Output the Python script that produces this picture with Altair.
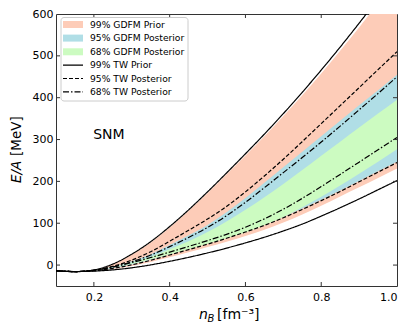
import altair as alt
import pandas as pd

# ---- data ----
n = [0.10, 0.15, 0.20, 0.25, 0.30, 0.35, 0.40, 0.45, 0.50, 0.55,
     0.60, 0.65, 0.70, 0.75, 0.80, 0.85, 0.90, 0.95, 1.00]

gdfm_prior_lo = [-13.5, -15.5, -14, -9.5, -2, 7.5, 18.5, 30.5, 43, 56, 69.5, 84.5, 101.5, 121, 142, 164, 186, 208, 231]
gdfm_prior_hi = [-13.5, -15.5, -12, 2, 25, 54, 90, 130, 172, 217, 262, 308, 356, 406, 458, 512, 568, 626, 686]
gdfm_post95_lo = [-13.5, -15.5, -13.5, -7.5, 1.5, 13, 26, 39, 52, 66, 81, 97, 115, 135, 156, 178, 201, 224, 247]
gdfm_post95_hi = [-13.5, -15.5, -12.5, -4, 9, 26, 48, 71, 96, 126, 160, 197, 234, 271, 308, 345, 382, 418, 455]
gdfm_post68_lo = [-13.5, -15.5, -13, -6, 3, 14, 26, 38.5, 51, 64, 78, 95, 115, 138, 163, 190, 218, 247, 277]
gdfm_post68_hi = [-13.5, -15.5, -12.5, -5, 6, 20, 38, 57, 79, 104, 132, 162, 194, 227, 261, 295, 329, 362, 395]

tw_prior_lo = [-13.5, -15.5, -14.5, -11.5, -6.5, 0.5, 9, 18.5, 29, 40.5, 53, 66.5, 81.5, 98, 117, 137, 158, 180, 202]
tw_prior_hi = [-13.5, -15.5, -11.5, 2.5, 26, 56, 92, 132, 175, 220, 266, 313, 362, 413, 466, 521, 578, 637, 698]
tw_post95_lo = [-13.5, -15.5, -13.5, -8, 0.5, 11.5, 24, 37, 50, 64, 79, 95, 113, 133, 154, 176, 199, 222, 245]
tw_post95_hi = [-13.5, -15.5, -12.5, -3, 12, 32, 57, 83, 110, 140, 175, 213, 253, 295, 338, 381, 424, 467, 510]
tw_post68_lo = [-13.5, -15.5, -12.5, -4.5, 6, 18, 31, 44.5, 58.5, 73.5, 90.5, 110.5, 133.5, 159.5, 187.5, 216.5, 246, 275.5, 305]
tw_post68_hi = [-13.5, -15.5, -12.5, -4.5, 8, 24, 44, 66, 90, 118, 150, 185, 221, 257, 294, 332, 371, 410, 450]

band_names = ["99% GDFM Prior", "95% GDFM Posterior", "68% GDFM Posterior"]
band_colors = ["#fdccb8", "#b0dee6", "#ccfbc1"]
line_names = ["99% TW Prior", "95% TW Posterior", "68% TW Posterior"]
line_dashes = [[1, 0], [4, 2], [6, 2, 1.5, 2]]

x_ticks = [0.2, 0.4, 0.6, 0.8, 1.0]
y_ticks = [0, 100, 200, 300, 400, 500, 600]

# ---- layout ----
W, H = 341, 272
FONT = "DejaVu Sans"
xs = alt.Scale(domain=[0.1, 1.0], nice=False, zero=False)
ys = alt.Scale(domain=[-50, 600], nice=False, zero=False)

bands = [(band_names[0], gdfm_prior_lo, gdfm_prior_hi, band_colors[0]),
         (band_names[1], gdfm_post95_lo, gdfm_post95_hi, band_colors[1]),
         (band_names[2], gdfm_post68_lo, gdfm_post68_hi, band_colors[2])]

layers = []
first = True
for name, lo, hi, col in bands:
    df = pd.DataFrame({"n": n, "lo": lo, "hi": hi})
    if first:
        xenc = alt.X("n:Q", scale=xs, axis=alt.Axis(values=x_ticks, format=".1f", ticks=False, domain=False,
                                                   grid=False, labelFontSize=11, labelFont=FONT,
                                                   labelColor="black", labelPadding=5, title=None))
        yenc = alt.Y("lo:Q", scale=ys, axis=alt.Axis(values=y_ticks, format="d", ticks=False, domain=False,
                                                    grid=False, labelFontSize=11, labelFont=FONT,
                                                    labelColor="black", labelPadding=3, title=None))
        first = False
    else:
        xenc = alt.X("n:Q", scale=xs)
        yenc = alt.Y("lo:Q", scale=ys)
    layers.append(alt.Chart(df).mark_area(interpolate="monotone", clip=True, color=col).encode(
        x=xenc, y=yenc, y2="hi:Q"))

curves = [(line_names[0], "lo", tw_prior_lo), (line_names[0], "hi", tw_prior_hi),
          (line_names[1], "lo", tw_post95_lo), (line_names[1], "hi", tw_post95_hi),
          (line_names[2], "lo", tw_post68_lo), (line_names[2], "hi", tw_post68_hi)]
rows = []
for style, side, vals in curves:
    for x, v in zip(n, vals):
        rows.append({"style": style, "curve": style + side, "n": x, "v": v})
line_df = pd.DataFrame(rows)
layers.append(alt.Chart(line_df).mark_line(interpolate="monotone", clip=True, color="black",
                                           strokeWidth=1.2).encode(
    x=alt.X("n:Q", scale=xs), y=alt.Y("v:Q", scale=ys),
    strokeDash=alt.StrokeDash("style:N", scale=alt.Scale(domain=line_names, range=line_dashes), legend=None),
    detail="curve:N"))

# inward ticks on all four sides
xt = pd.DataFrame({"t": x_ticks[:-1]})
yt = pd.DataFrame({"t": y_ticks[:-1]})
tick_col = "#333333"
layers.append(alt.Chart(xt).mark_rule(color=tick_col).encode(x=alt.X("t:Q", scale=xs), y=alt.value(H), y2=alt.value(H - 4)))
layers.append(alt.Chart(xt).mark_rule(color=tick_col).encode(x=alt.X("t:Q", scale=xs), y=alt.value(0), y2=alt.value(4)))
layers.append(alt.Chart(yt).mark_rule(color=tick_col).encode(y=alt.Y("t:Q", scale=ys), x=alt.value(0), x2=alt.value(4)))
layers.append(alt.Chart(yt).mark_rule(color=tick_col).encode(y=alt.Y("t:Q", scale=ys), x=alt.value(W), x2=alt.value(W - 4)))

# SNM annotation
snm = pd.DataFrame({"n": [0.198], "v": [310], "t": ["SNM"]})
layers.append(alt.Chart(snm).mark_text(align="left", baseline="middle", fontSize=14, font=FONT, color="black").encode(
    x=alt.X("n:Q", scale=xs), y=alt.Y("v:Q", scale=ys), text="t:N"))

one = pd.DataFrame({"a": [0]})

# legend
layers.append(alt.Chart(one).mark_rect(fill="white", fillOpacity=0.85, stroke="#cccccc", strokeWidth=1,
                                       cornerRadius=3).encode(
    x=alt.value(5), x2=alt.value(132), y=alt.value(3.5), y2=alt.value(87)))
row_y = [10.5, 24.1, 37.8, 51.1, 64.5, 77.8]
for i, (name, col) in enumerate(zip(band_names, band_colors)):
    yy = row_y[i]
    layers.append(alt.Chart(one).mark_rect(color=col).encode(
        x=alt.value(7), x2=alt.value(27), y=alt.value(yy - 3.5), y2=alt.value(yy + 3.5)))
for i, (name, dash) in enumerate(zip(line_names, line_dashes)):
    yy = row_y[3 + i]
    layers.append(alt.Chart(one).mark_rule(color="black", strokeWidth=1.2, strokeDash=dash).encode(
        x=alt.value(7), x2=alt.value(27), y=alt.value(yy)))
for i, name in enumerate(band_names + line_names):
    layers.append(alt.Chart(one).mark_text(text=name, align="left", baseline="middle", fontSize=9.2,
                                           font=FONT, color="black").encode(
        x=alt.value(34), y=alt.value(row_y[i])))

# axis titles (mixed italic)
layers.append(alt.Chart(one).mark_text(text="E/A", angle=270, align="left", baseline="middle", fontSize=13.5,
                                       font=FONT, fontStyle="italic", color="black").encode(
    x=alt.value(-39), y=alt.value(169)))
layers.append(alt.Chart(one).mark_text(text="[MeV]", angle=270, align="left", baseline="middle", fontSize=13.5,
                                       font=FONT, color="black").encode(
    x=alt.value(-39), y=alt.value(142)))
layers.append(alt.Chart(one).mark_text(text="n", align="left", baseline="alphabetic", fontSize=14,
                                       font=FONT, fontStyle="italic", color="black").encode(
    x=alt.value(143), y=alt.value(305)))
layers.append(alt.Chart(one).mark_text(text="B", align="left", baseline="alphabetic", fontSize=10,
                                       font=FONT, fontStyle="italic", color="black").encode(
    x=alt.value(151.5), y=alt.value(308)))
layers.append(alt.Chart(one).mark_text(text="[fm\u207b\u00b3]", align="left", baseline="alphabetic", fontSize=14,
                                       font=FONT, color="black").encode(
    x=alt.value(161), y=alt.value(305)))

chart = alt.layer(*layers).properties(
    width=W, height=H,
    autosize=alt.AutoSizeParams(type="none"),
    padding={"left": 48, "top": 6, "right": 10, "bottom": 38},
).configure_view(stroke="#333333", strokeWidth=1)

chart.save("out.html", embed_options={"renderer": "svg", "actions": False})
